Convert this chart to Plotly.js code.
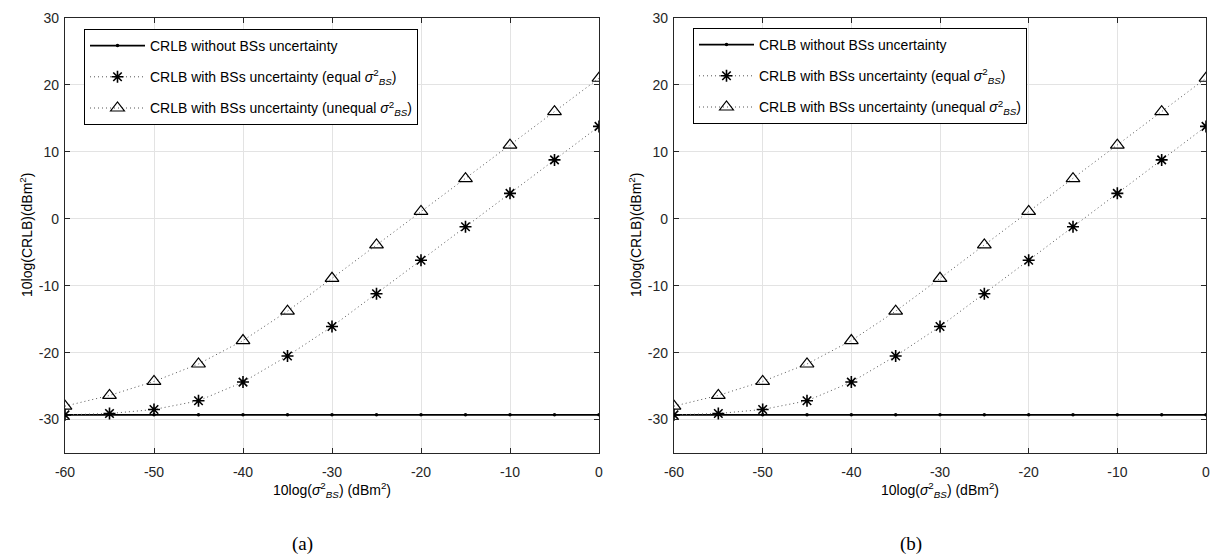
<!DOCTYPE html>
<html>
<head>
<meta charset="utf-8">
<script src="https://cdn.plot.ly/plotly-3.0.1.min.js"></script>
<style>html,body{margin:0;padding:0;background:#fff;}#chart{width:1216px;height:557px;}</style>
</head>
<body>
<div id="chart"></div>
<script>
// ---- data ----
const sigmaBS = [-60, -55, -50, -45, -40, -35, -30, -25, -20, -15, -10, -5, 0];
const crlbNoUncert = [-29.3, -29.3, -29.3, -29.3, -29.3, -29.3, -29.3, -29.3, -29.3, -29.3, -29.3, -29.3, -29.3];
const crlbEqual = [-29.3, -29.1, -28.5, -27.2, -24.4, -20.5, -16.1, -11.2, -6.2, -1.2, 3.8, 8.8, 13.8];
const crlbUnequal = [-28.0, -26.4, -24.3, -21.7, -18.2, -13.8, -8.9, -3.9, 1.1, 6.0, 11.0, 16.0, 21.0];
const seriesNames = [
  'CRLB without BSs uncertainty',
  'CRLB with BSs uncertainty (equal <i>σ</i><sup>2</sup><sub><i>BS</i></sub>)',
  'CRLB with BSs uncertainty (unequal <i>σ</i><sup>2</sup><sub><i>BS</i></sub>)'
];
const xTicks = [-60, -50, -40, -30, -20, -10, 0];
const xTickText = ['-60', '-50', '-40', '-30', '-20', '-10', '0'];
const yTicks = [-30, -20, -10, 0, 10, 20, 30];
const yTickText = ['-30', '-20', '-10', '0', '10', '20', '30'];
const xTitle = '10log(<i>σ</i><sup>2</sup><sub><i>BS</i></sub>) (dBm<sup>2</sup>)';
const yTitle = '10log(CRLB)(dBm<sup>2</sup>)';
const captions = ['(a)', '(b)'];

const FONT = 'Liberation Sans, Arial, sans-serif';
const traces = [];
['', '2'].forEach((s, i) => {
  const xa = 'x' + s, ya = 'y' + s, lg = i === 0 ? 'legend' : 'legend2';
  traces.push({
    x: sigmaBS, y: crlbNoUncert, xaxis: xa, yaxis: ya, legend: lg, legendgroup: 'g1' + s,
    name: seriesNames[0], mode: 'lines+markers',
    line: {color: '#000', width: 1.6},
    marker: {symbol: 'circle', size: 3.5, color: '#000'}
  });
  traces.push({
    x: sigmaBS, y: crlbEqual, xaxis: xa, yaxis: ya, legend: lg, legendgroup: 'g2' + s,
    name: seriesNames[1], mode: 'lines+markers',
    line: {color: '#555', width: 1, dash: '1px,3px'},
    marker: {symbol: 'asterisk-open', size: 10, color: '#000', line: {color: '#000', width: 1.6}}
  });
  traces.push({
    x: sigmaBS, y: crlbUnequal, xaxis: xa, yaxis: ya, legend: lg, legendgroup: 'g3' + s,
    name: seriesNames[2], mode: 'lines+markers',
    line: {color: '#555', width: 1, dash: '1px,3px'},
    marker: {symbol: 'triangle-up-open', size: 12, color: '#000', line: {color: '#000', width: 1.2}}
  });
});

function xaxis(domain, anchor) {
  return {
    domain: domain, anchor: anchor, range: [-60, 0], tickvals: xTicks, ticktext: xTickText,
    ticks: 'inside', ticklen: 5, tickcolor: '#262626', mirror: 'ticks', ticklabelstandoff: 6,
    showline: true, linecolor: '#262626', linewidth: 1.2,
    showgrid: true, gridcolor: '#e3e3e3', gridwidth: 1, zeroline: false,
    tickfont: {family: FONT, size: 14, color: '#262626'},
    title: {text: xTitle, font: {family: FONT, size: 14, color: '#000'}, standoff: 1}
  };
}
function yaxis(domain, anchor) {
  return {
    domain: domain, anchor: anchor, range: [-35, 30], tickvals: yTicks, ticktext: yTickText,
    ticks: 'inside', ticklen: 5, tickcolor: '#262626', mirror: 'ticks', ticklabelstandoff: 2,
    showline: true, linecolor: '#262626', linewidth: 1.2,
    showgrid: true, gridcolor: '#e3e3e3', gridwidth: 1, zeroline: false,
    tickfont: {family: FONT, size: 14, color: '#262626'},
    title: {text: ''}
  };
}
const yDom = [1 - 453 / 557, 1 - 18 / 557];
const legendBase = {
  bgcolor: '#fff', bordercolor: '#000', borderwidth: 1,
  font: {family: FONT, size: 14, color: '#000'},
  xanchor: 'left', yanchor: 'top', itemwidth: 55, tracegroupgap: 10, traceorder: 'grouped'
};
const capFont = {family: 'Liberation Serif, DejaVu Serif, serif', size: 19, color: '#000'};
const layout = {
  width: 1216, height: 557,
  margin: {l: 0, r: 0, t: 0, b: 0},
  paper_bgcolor: '#fff', plot_bgcolor: '#fff',
  showlegend: true,
  xaxis: xaxis([65 / 1216, 599 / 1216], 'y'),
  yaxis: yaxis(yDom, 'x'),
  xaxis2: xaxis([674 / 1216, 1206 / 1216], 'y2'),
  yaxis2: yaxis(yDom, 'x2'),
  legend: Object.assign({}, legendBase, {x: 84 / 1216, y: 1 - 29 / 557}),
  legend2: Object.assign({}, legendBase, {x: 693 / 1216, y: 1 - 28 / 557}),
  annotations: [
    {text: yTitle, xref: 'paper', yref: 'paper', x: 26 / 1216, y: 1 - 235 / 557,
     xanchor: 'center', yanchor: 'middle', textangle: -90, showarrow: false,
     font: {family: FONT, size: 14, color: '#000'}},
    {text: yTitle, xref: 'paper', yref: 'paper', x: 635 / 1216, y: 1 - 235 / 557,
     xanchor: 'center', yanchor: 'middle', textangle: -90, showarrow: false,
     font: {family: FONT, size: 14, color: '#000'}},
    {text: captions[0], xref: 'paper', yref: 'paper', x: 302 / 1216, y: 1 - 544 / 557,
     xanchor: 'center', yanchor: 'middle', showarrow: false, font: capFont},
    {text: captions[1], xref: 'paper', yref: 'paper', x: 911 / 1216, y: 1 - 544 / 557,
     xanchor: 'center', yanchor: 'middle', showarrow: false, font: capFont}
  ]
};
Plotly.newPlot('chart', traces, layout, {displayModeBar: false, staticPlot: true});
</script>
</body>
</html>
